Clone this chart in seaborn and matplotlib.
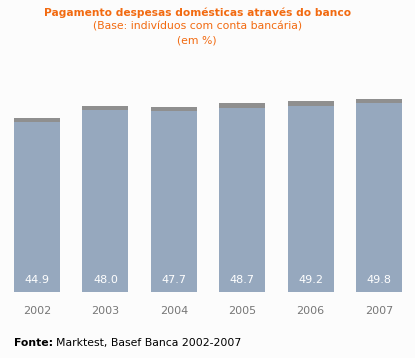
import pandas as pd
import seaborn as sns
from matplotlib import pyplot as plt

# valores
anos = ['2002', '2003', '2004', '2005', '2006', '2007']
valores = [44.9, 48.0, 47.7, 48.7, 49.2, 49.8]

df = pd.DataFrame({'ano': anos, 'valor': valores})
df['corpo'] = df['valor'] - 1.1

sns.set_style('white')
fig = plt.figure(figsize=(4.15, 3.58), dpi=100, facecolor='#fcfcfc')
ax = fig.add_axes([0, 0, 1, 1])
ax.set_facecolor('#fcfcfc')

# tampa cinzenta + corpo azul
sns.barplot(data=df, x='ano', y='valor', color='#8f8f8f', width=0.672,
            saturation=1, linewidth=0, ax=ax)
sns.barplot(data=df, x='ano', y='corpo', color='#96a8be', width=0.672,
            saturation=1, linewidth=0, ax=ax)

ax.set_xlim(-0.541, 5.526)
ax.set_ylim(-17.03, 75.35)
ax.axis('off')

for i, v in enumerate(valores):
    ax.text(i, 3.1, f'{v:.1f}', color='white', ha='center', va='center', fontsize=8)
    ax.text(i, -5.0, anos[i], color='#777777', ha='center', va='center', fontsize=8)

fig.text(0.475, 0.963, 'Pagamento despesas domésticas através do banco',
         color='#f26a10', fontsize=7.7, fontweight='bold', ha='center', va='center')
fig.text(0.475, 0.927, '(Base: indivíduos com conta bancária)',
         color='#f26a10', fontsize=7.8, ha='center', va='center')
fig.text(0.475, 0.888, '(em %)', color='#f26a10', fontsize=7.8, ha='center', va='center')

t = fig.text(0.034, 0.042, 'Fonte:', color='black', fontsize=7.8, fontweight='bold',
             ha='left', va='center')
fig.canvas.draw()
bb = t.get_window_extent()
fig.text((bb.x1 + 3) / fig.bbox.width, 0.042, 'Marktest, Basef Banca 2002-2007',
         color='black', fontsize=7.8, ha='left', va='center')

fig.savefig('out.png', dpi=100, facecolor=fig.get_facecolor())
